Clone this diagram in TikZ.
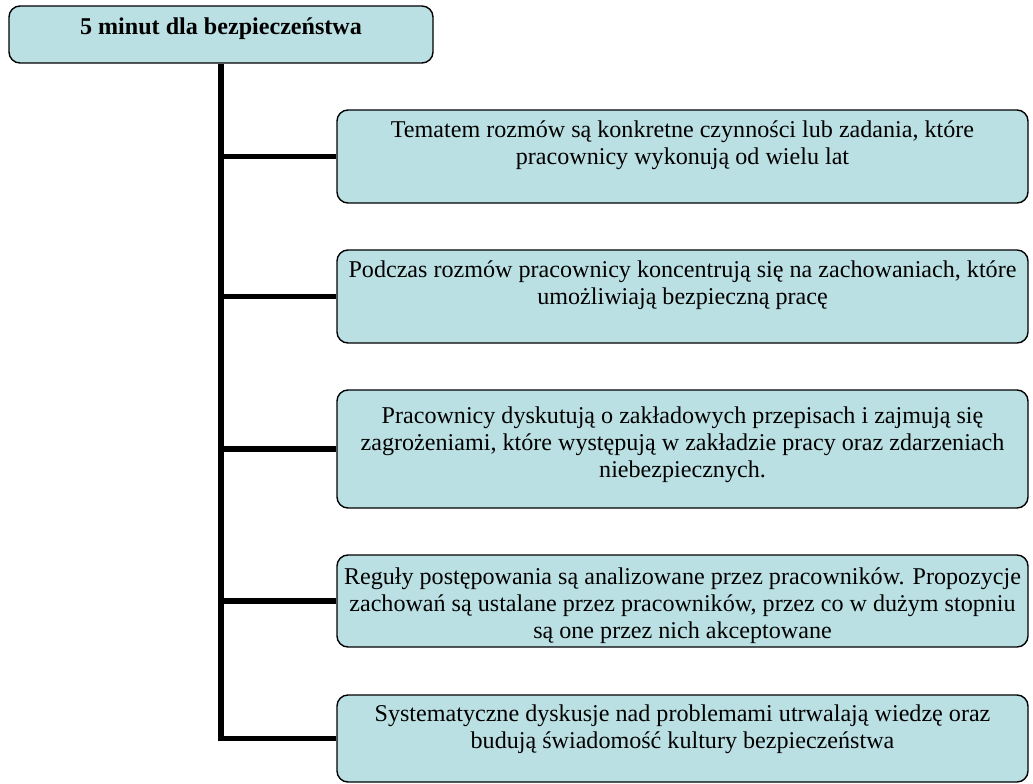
\documentclass[tikz,border=0pt]{standalone}
\usepackage{fontspec}
\setmainfont{Liberation Serif}
\definecolor{boxfill}{RGB}{187,224,227}
\begin{document}
\begin{tikzpicture}[x=1pt,y=-1pt,
  box/.style={draw=black, line width=1.4pt, fill=boxfill, rounded corners=11pt, inner sep=0pt},
  txt/.style={inner sep=0pt, align=center, font=\fontsize{24.1}{26.8}\selectfont, anchor=north},
  conn/.style={draw=black, line width=5.5pt}]
\useasboundingbox (0,0) rectangle (1033,784);
% title
\node[box, minimum width=424pt, minimum height=57pt] (title) at (221,34.5) {};
\node[txt, font=\fontsize{24.1}{26.8}\selectfont\bfseries] (tt) at ([yshift=-9pt]title.north) {\rule{0pt}{20pt}5 minut dla bezpieczeństwa};
% boxes
\node[box, minimum width=691pt, minimum height=93pt] (b1) at (682.5,156.5) {};
\node[box, minimum width=691pt, minimum height=93pt] (b2) at (682.5,296.5) {};
\node[box, minimum width=691pt, minimum height=118pt] (b3) at (682.5,449) {};
\node[box, minimum width=691pt, minimum height=92pt] (b4) at (682.5,601) {};
\node[box, minimum width=691pt, minimum height=87pt] (b5) at (682.5,738.5) {};
\node[txt] (t1) at ([yshift=-8pt]b1.north) {\rule{0pt}{20pt}Tematem rozmów są konkretne czynności lub zadania, które\\pracownicy wykonują od wielu lat};
\node[txt] (t2) at ([yshift=-8pt]b2.north) {\rule{0pt}{20pt}Podczas rozmów pracownicy koncentrują się na zachowaniach, które\\umożliwiają bezpieczną pracę};
\node[txt] (t3) at ([yshift=-14pt]b3.north) {\rule{0pt}{20pt}Pracownicy dyskutują o zakładowych przepisach i zajmują się\\zagrożeniami, które występują w zakładzie pracy oraz zdarzeniach\\niebezpiecznych.};
\node[txt] (t4) at ([yshift=-10pt]b4.north) {\rule{0pt}{20pt}Reguły postępowania są analizowane przez pracowników. Propozycje\\zachowań są ustalane przez pracowników, przez co w dużym stopniu\\są one przez nich akceptowane};
\node[txt] (t5) at ([yshift=-7pt]b5.north) {\rule{0pt}{20pt}Systematyczne dyskusje nad problemami utrwalają wiedzę oraz\\budują świadomość kultury bezpieczeństwa};
% connectors
\draw[conn] (title.south) |- (b5.west);
\draw[conn] (b1.west) -- (b1.west -| title.south);
\draw[conn] (b2.west) -- (b2.west -| title.south);
\draw[conn] (b3.west) -- (b3.west -| title.south);
\draw[conn] (b4.west) -- (b4.west -| title.south);
\end{tikzpicture}
\end{document}
